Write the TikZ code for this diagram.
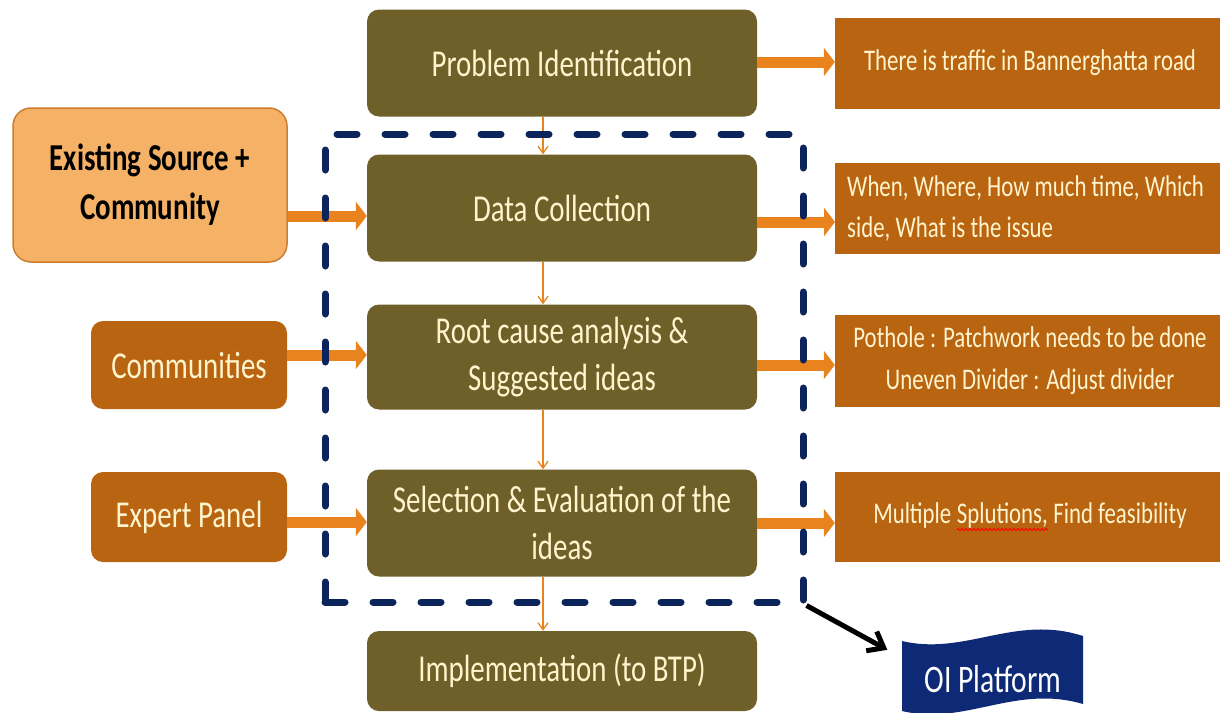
\documentclass[tikz,border=0pt]{standalone}
\usepackage{fontspec}
\setmainfont{Carlito}[FakeStretch=0.76]
\usetikzlibrary{arrows.meta,decorations.pathmorphing}
\definecolor{olivebox}{RGB}{110,96,40}
\definecolor{brownbox}{RGB}{184,100,16}
\definecolor{lightorange}{RGB}{245,178,103}
\definecolor{orangeedge}{RGB}{205,125,45}
\definecolor{arroworange}{RGB}{233,131,30}
\definecolor{navydash}{RGB}{12,36,92}
\definecolor{oiblue}{RGB}{14,42,118}
\definecolor{creamtext}{RGB}{255,244,205}
\newcommand\spellerr[1]{\tikz[baseline=(w.base),x=1pt,y=1pt]{\node[inner sep=0pt,outer sep=0pt,minimum width=0pt,minimum height=0pt,fill=none,draw=none,rounded corners=0pt,anchor=center](w){#1};\draw[red,line width=0.9pt,decorate,decoration={snake,amplitude=1.1pt,segment length=4pt}] ([yshift=-1pt]w.south west) -- ([yshift=-1pt]w.south east);}}
\begin{document}
\begin{tikzpicture}[x=1pt,y=-1pt,
  stage/.style={fill=olivebox,rounded corners=12pt,text=creamtext,font=\fontsize{38}{47}\selectfont,align=center,minimum width=390pt,inner sep=0pt},
  result/.style={fill=brownbox,text=creamtext,font=\fontsize{30}{41}\selectfont,align=center,minimum width=390pt,inner sep=0pt},
  source/.style={fill=brownbox,rounded corners=12pt,text=creamtext,font=\fontsize{38}{46}\selectfont,align=center,minimum width=196pt,inner sep=0pt},
  bigarrow/.style={arroworange,line width=11pt,-{Triangle[length=11pt,width=28pt]}},
  thinarrow/.style={arroworange,line width=1.3pt,-{Straight Barb[length=7pt,width=10pt]}},
]
\useasboundingbox (0,0) rectangle (1220,712);
% centre column
\node[stage,minimum height=107pt] (PI) at (562,63) {Problem Identification};
\node[stage,minimum height=107pt] (DC) at (562,208) {Data Collection};
\node[stage,minimum height=105pt] (RC) at (562,357) {Root cause analysis \&\\Suggested ideas};
\node[stage,minimum height=107pt] (SE) at (562,523) {Selection \& Evaluation of the\\ideas};
\node[stage,minimum height=80pt] (IM) at (562,671) {Implementation (to BTP)};
% right column
\node[result,minimum height=91pt] (R1) at (1030,63) {There is traffic in Bannerghatta road};
\node[result,anchor=west,align=flush left,text width=380pt,inner xsep=12pt,minimum width=0pt,minimum height=91pt] (R2) at (835,208.5) {When, Where, How much time, Which\\side, What is the issue};
\node[result,font=\fontsize{30}{42}\selectfont,minimum height=92pt] (R3) at (1030,361) {Pothole : Patchwork needs to be done\\Uneven Divider : Adjust divider};
\node[result,minimum height=90pt] (R4) at (1030,517) {Multiple \spellerr{Splutions,} Find feasibility};
% left column
\node[fill=lightorange,draw=orangeedge,line width=1.5pt,rounded corners=18pt,minimum width=274pt,minimum height=154pt,inner sep=0pt,font=\bfseries\fontsize{38}{49}\selectfont,align=center,text=black] (ES) at (150,185) {Existing Source +\\Community};
\node[source,minimum height=88pt] (CO) at (189,365) {Communities};
\node[source,minimum height=90pt] (EP) at (189,517) {Expert Panel};
% arrows
\draw[bigarrow] (ES.east |- 0,216) -- (DC.west |- 0,216);
\draw[bigarrow] (CO.east |- 0,355) -- (RC.west |- 0,355);
\draw[bigarrow] (EP.east |- 0,522) -- (SE.west |- 0,522);
\draw[bigarrow] (PI.east |- 0,62) -- (R1.west |- 0,62);
\draw[bigarrow] (DC.east |- 0,222) -- (R2.west |- 0,222);
\draw[bigarrow] (RC.east |- 0,365) -- (R3.west |- 0,365);
\draw[bigarrow] (SE.east |- 0,523) -- (R4.west |- 0,523);
\draw[thinarrow] ([xshift=-19pt]PI.south) -- ([xshift=-19pt]DC.north);
\draw[thinarrow] ([xshift=-19pt]DC.south) -- ([xshift=-19pt]RC.north);
\draw[thinarrow] ([xshift=-19pt]RC.south) -- ([xshift=-19pt]SE.north);
\draw[thinarrow] ([xshift=-19pt]SE.south) -- ([xshift=-19pt]IM.north);
% dashed group
\node[draw=navydash,line width=7pt,dash pattern=on 20pt off 28pt,line cap=round,minimum width=478pt,minimum height=468pt,inner sep=0pt] (grp) at (564,368) {};
% OI platform
\fill[oiblue] (902,641) .. controls (965,656) and (1015,614) .. (1083,636) -- (1083,704) .. controls (1015,684) and (965,726) .. (902,711) -- cycle;
\node[text=white,font=\fontsize{39}{46}\selectfont,minimum width=181pt,minimum height=70pt,inner sep=0pt] (OI) at (993,679) {OI Platform};
\draw[line width=5pt,-{Straight Barb[length=14pt,width=22pt]}] (grp.south east) -- ([xshift=-15pt,yshift=-6pt]OI.north west);
\end{tikzpicture}
\end{document}
